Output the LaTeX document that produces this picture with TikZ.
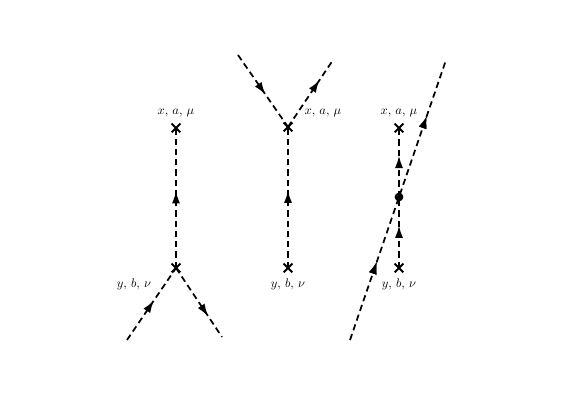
\documentclass[tikz,border=0pt]{standalone}
\usetikzlibrary{arrows.meta,decorations.markings,shapes.misc}
\begin{document}
\begin{tikzpicture}[x=0.8pt,y=-0.8pt,
  prop/.style={line width=1.4pt,dash pattern=on 5pt off 3.2pt},
  arr/.style={postaction={decorate},decoration={markings,mark=at position #1 with {\arrow{Latex[length=10pt,width=6.5pt]}}}},
  crossmark/.style={cross out,draw,line width=1.5pt,minimum size=5.5pt,inner sep=0pt},
  blob/.style={circle,fill,inner sep=0pt,minimum width=6pt,minimum height=7pt},
  lbl/.style={inner sep=0pt,font=\normalsize}]
\useasboundingbox (0,0) rectangle (574,401);
% diagram 1
\coordinate (a1) at (127,340);
\coordinate (a2) at (222,337);
\node[crossmark] (ax) at (176,128) {};
\node[crossmark] (ay) at (176,268) {};
\draw[prop,arr=0.55] (ay.center) -- (ax.center);
\draw[prop,arr=0.55] (a1) -- (ay.center);
\draw[prop,arr=0.7] (ay.center) -- (a2);
\node[lbl] (axl) at (176,113) {$x,\,a,\,\mu$};
\node[lbl] (ayl) at (134,284) {$y,\,b,\,\nu$};
% diagram 2
\coordinate (b1) at (238,55);
\coordinate (b2) at (333,60);
\node[crossmark] (bx) at (288,127) {};
\node[crossmark] (by) at (288,268) {};
\draw[prop,arr=0.55] (by.center) -- (bx.center);
\draw[prop,arr=0.55] (b1) -- (bx.center);
\draw[prop,arr=0.7] (bx.center) -- (b2);
\node[lbl] (bxl) at (323,113) {$x,\,a,\,\mu$};
\node[lbl] (byl) at (288,284) {$y,\,b,\,\nu$};
% diagram 3
\coordinate (c1) at (350,340);
\coordinate (c2) at (446,60);
\node[crossmark] (cx) at (399,128) {};
\node[crossmark] (cy) at (399,268) {};
\node[blob] (cb) at (399,197) {};
\draw[prop,arr=0.28,arr=0.8] (c1) -- (c2);
\draw[prop,arr=0.6] (cy.center) -- (cb.center);
\draw[prop,arr=0.6] (cb.center) -- (cx.center);
\node[lbl] (cxl) at (399,113) {$x,\,a,\,\mu$};
\node[lbl] (cyl) at (399,284) {$y,\,b,\,\nu$};
\end{tikzpicture}
\end{document}
